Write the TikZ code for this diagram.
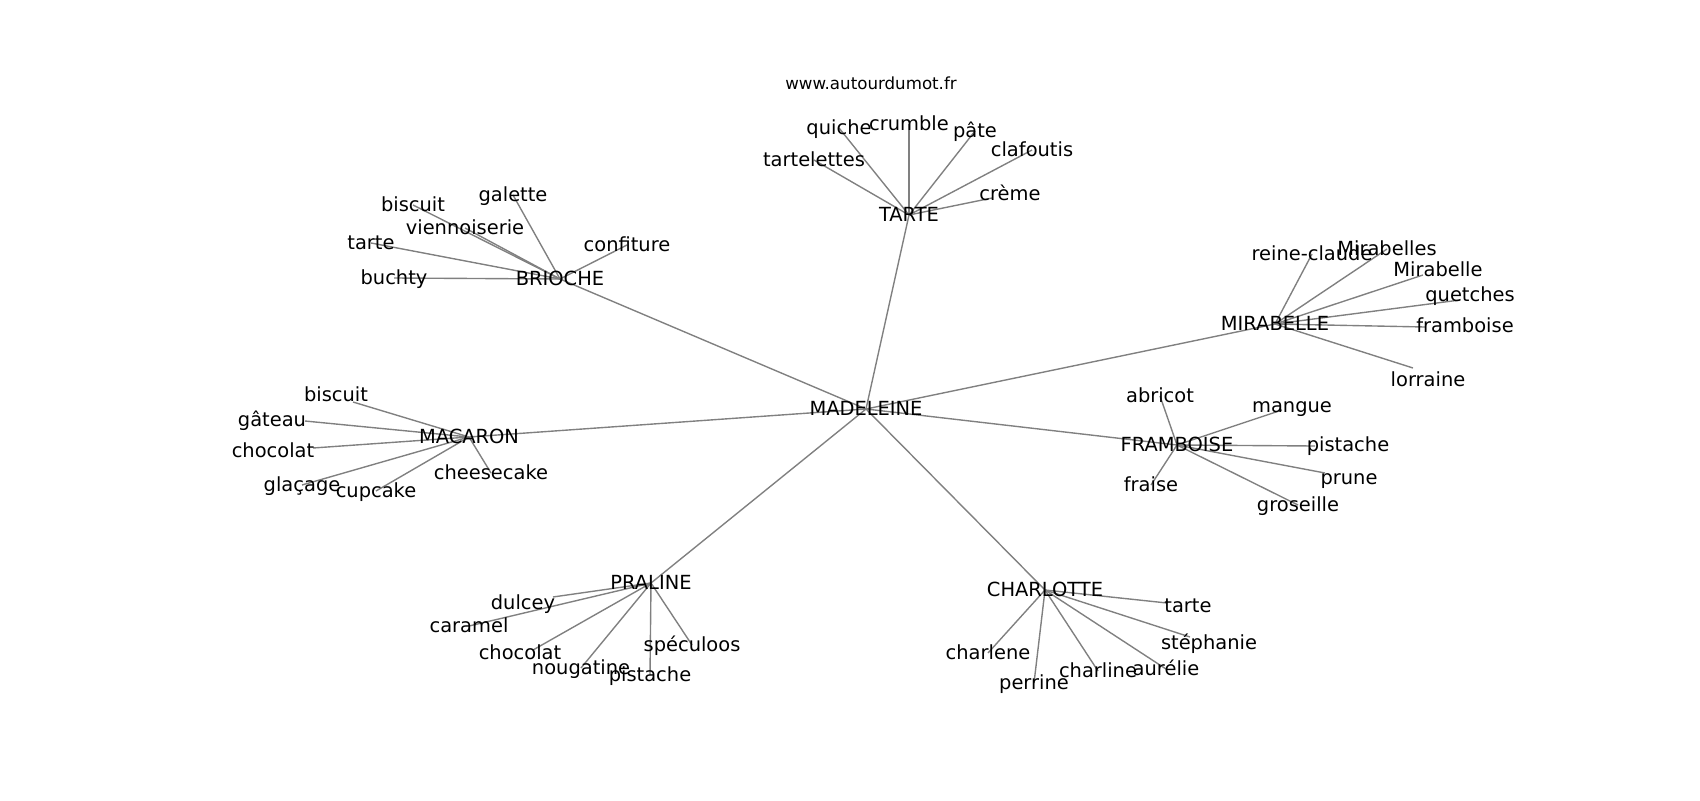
\documentclass[tikz,border=0pt]{standalone}
\usepackage{fontspec}
\setmainfont{DejaVu Sans}
\usetikzlibrary{calc,backgrounds}

\begin{document}
\begin{tikzpicture}[x=0.72pt,y=-0.72pt,
word/.style = {inner sep=0pt, text height=0.93em, text depth=0.04em,
               font=\fontsize{14}{17}\selectfont},
site/.style = {inner sep=0pt, font=\fontsize{12}{14}\selectfont},
line/.style = {draw=gray, line width=1pt}]

\useasboundingbox (0,0) rectangle (1700,800);

\node [site] (site) at (871,83) {www.autourdumot.fr};

% hubs
\node [word] (madeleine) at (866,409) {MADELEINE};
\node [word] (brioche) at (560,279) {BRIOCHE};
\node [word] (tarte) at (909,215) {TARTE};
\node [word] (mirabelle) at (1275,324) {MIRABELLE};
\node [word] (framboise) at (1177,445) {FRAMBOISE};
\node [word] (macaron) at (469,437) {MACARON};
\node [word] (praline) at (651,583) {PRALINE};
\node [word] (charlotte) at (1045,590) {CHARLOTTE};

% brioche
\node [word] (galette) at (513,195) {galette};
\node [word] (biscuit1) at (413,205) {biscuit};
\node [word] (viennoiserie) at (465,228) {viennoiserie};
\node [word] (tarte1) at (371,243) {tarte};
\node [word] (buchty) at (394,278) {buchty};
\node [word] (confiture) at (627,245) {confiture};

% tarte
\node [word] (quiche) at (839,128) {quiche};
\node [word] (crumble) at (909,124) {crumble};
\node [word] (pate) at (975,131) {pâte};
\node [word] (clafoutis) at (1032,150) {clafoutis};
\node [word] (tartelettes) at (814,160) {tartelettes};
\node [word] (creme) at (1010,194) {crème};

% mirabelle
\node [word] (reine) at (1312,254) {reine-claude};
\node [word] (mirabelles) at (1387,249) {Mirabelles};
\node [word] (mirabelle1) at (1438,270) {Mirabelle};
\node [word] (quetches) at (1470,295) {quetches};
\node [word] (framboise1) at (1465,326) {framboise};
\node [word] (lorraine) at (1428,380) {lorraine};

% framboise
\node [word] (abricot) at (1160,396) {abricot};
\node [word] (mangue) at (1292,406) {mangue};
\node [word] (pistache1) at (1348,445) {pistache};
\node [word] (prune) at (1349,478) {prune};
\node [word] (groseille) at (1298,505) {groseille};
\node [word] (fraise) at (1151,485) {fraise};

% macaron
\node [word] (biscuit2) at (336,395) {biscuit};
\node [word] (gateau) at (272,420) {gâteau};
\node [word] (chocolat1) at (273,451) {chocolat};
\node [word] (glacage) at (302,485) {glaçage};
\node [word] (cupcake) at (376,491) {cupcake};
\node [word] (cheesecake) at (491,473) {cheesecake};

% praline
\node [word] (dulcey) at (523,603) {dulcey};
\node [word] (caramel) at (469,626) {caramel};
\node [word] (chocolat2) at (520,653) {chocolat};
\node [word] (nougatine) at (581,668) {nougatine};
\node [word] (pistache2) at (650,675) {pistache};
\node [word] (speculoos) at (692,645) {spéculoos};

% charlotte
\node [word] (tarte2) at (1188,606) {tarte};
\node [word] (stephanie) at (1209,643) {stéphanie};
\node [word] (aurelie) at (1166,669) {aurélie};
\node [word] (charline) at (1098,671) {charline};
\node [word] (perrine) at (1034,683) {perrine};
\node [word] (charlene) at (988,653) {charlene};

\begin{scope}[on background layer, every path/.style=line]
\path (madeleine.center) -- (brioche.center);
\path (madeleine.center) -- (tarte.center);
\path (madeleine.center) -- (mirabelle.center);
\path (madeleine.center) -- (framboise.center);
\path (madeleine.center) -- (macaron.center);
\path (madeleine.center) -- (praline.center);
\path (madeleine.center) -- (charlotte.center);

\path (brioche.center) -- (galette.center);
\path (brioche.center) -- (biscuit1.center);
\path (brioche.center) -- (viennoiserie.center);
\path (brioche.center) -- (tarte1.center);
\path (brioche.center) -- (buchty.center);
\path (brioche.center) -- (confiture.center);

\path (tarte.center) -- (quiche.center);
\path (tarte.center) -- (crumble.center);
\path (tarte.center) -- (pate.center);
\path (tarte.center) -- (clafoutis.center);
\path (tarte.center) -- (tartelettes.center);
\path (tarte.center) -- ($(creme)+(-18,4)$);

\path (mirabelle.center) -- (reine.center);
\path (mirabelle.center) -- (mirabelles.center);
\path (mirabelle.center) -- ($(mirabelle1)+(-15,5)$);
\path (mirabelle.center) -- ($(quetches)+(-10,5)$);
\path (mirabelle.center) -- ($(framboise1)+(-40,1)$);
\path (mirabelle.center) -- ($(lorraine)+(-15,-12)$);

\path (framboise.center) -- (abricot.center);
\path (framboise.center) -- ($(mangue)+(-10,4)$);
\path (framboise.center) -- ($(pistache1)+(-33,1)$);
\path (framboise.center) -- ($(prune)+(-24,-5)$);
\path (framboise.center) -- (groseille.center);
\path (framboise.center) -- (fraise.center);

\path (macaron.center) -- ($(biscuit2)+(17,7)$);
\path (macaron.center) -- ($(gateau)+(33,1)$);
\path (macaron.center) -- ($(chocolat1)+(40,-3)$);
\path (macaron.center) -- (glacage.center);
\path (macaron.center) -- (cupcake.center);
\path (macaron.center) -- (cheesecake.center);

\path (praline.center) -- ($(dulcey)+(30,-6)$);
\path (praline.center) -- (caramel.center);
\path (praline.center) -- ($(chocolat2)+(13,-3)$);
\path (praline.center) -- (nougatine.center);
\path (praline.center) -- (pistache2.center);
\path (praline.center) -- (speculoos.center);

\path (charlotte.center) -- ($(tarte2)+(-21,-3)$);
\path (charlotte.center) -- ($(stephanie)+(-19,-6)$);
\path (charlotte.center) -- (aurelie.center);
\path (charlotte.center) -- (charline.center);
\path (charlotte.center) -- (perrine.center);
\path (charlotte.center) -- (charlene.center);
\end{scope}
\end{tikzpicture}
\end{document}
